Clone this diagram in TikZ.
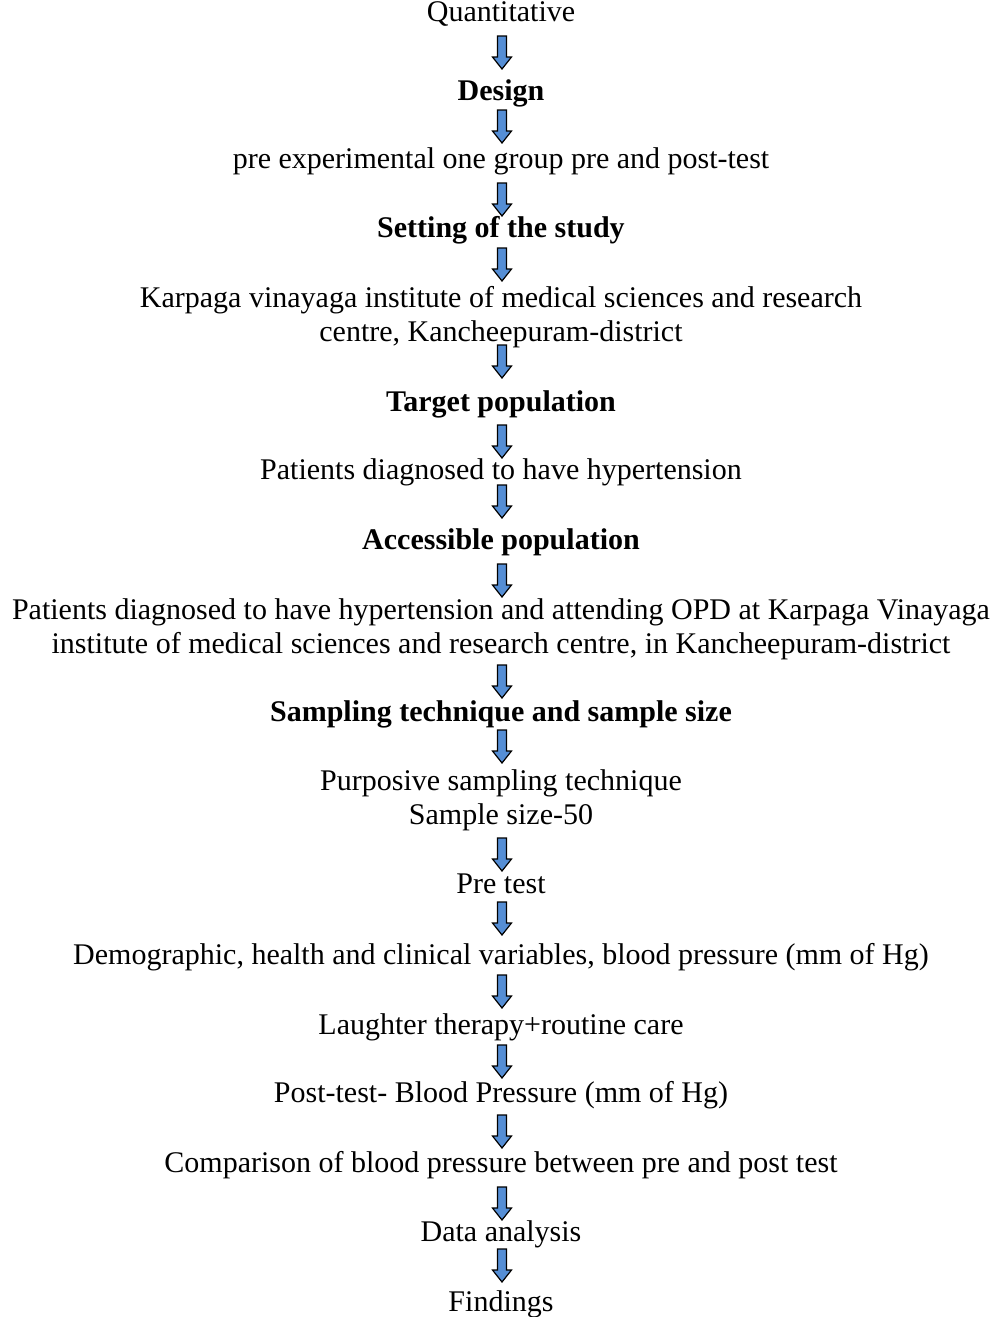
\documentclass[tikz,border=0pt]{standalone}
\usepackage{fontspec}
\setmainfont{Liberation Serif}
\definecolor{arrowblue}{HTML}{558ED5}
\tikzset{
  txt/.style={anchor=base, inner sep=0pt, font=\fontsize{30}{34}\selectfont, align=center},
  btxt/.style={txt, font=\fontsize{30}{34}\selectfont\bfseries},
  pics/barrow/.style={code={
    \draw[fill=arrowblue, line width=1.2pt, line join=miter]
      (-4.5,0) -- (4.5,0) -- (4.5,21) -- (9.5,21) -- (0,33) -- (-9.5,21) -- (-4.5,21) -- cycle;}}
}
\begin{document}
\begin{tikzpicture}[x=1pt,y=-1pt]
\useasboundingbox (0,0) rectangle (998,1317);
\node[txt]  (t1)  at (501,21)   {Quantitative};
\node[btxt] (t2)  at (501,100)  {Design};
\node[txt]  (t3)  at (501,168)  {pre experimental one group pre and post-test};
\node[btxt] (t4)  at (501,237)  {Setting of the study};
\node[txt]  (t5)  at (501,341)  {Karpaga vinayaga institute of medical sciences and research\\centre, Kancheepuram-district};
\node[btxt] (t6)  at (501,411)  {Target population};
\node[txt]  (t7)  at (501,479)  {Patients diagnosed to have hypertension};
\node[btxt] (t8)  at (501,549)  {Accessible population};
\node[txt]  (t9)  at (501,653)  {Patients diagnosed to have hypertension and attending OPD at Karpaga Vinayaga\\institute of medical sciences and research centre, in Kancheepuram-district};
\node[btxt] (t10) at (501,721)  {Sampling technique and sample size};
\node[txt]  (t11) at (501,824)  {Purposive sampling technique\\Sample size-50};
\node[txt]  (t12) at (501,893)  {Pre test};
\node[txt]  (t13) at (501,964)  {Demographic, health and clinical variables, blood pressure (mm of Hg)};
\node[txt]  (t14) at (501,1034) {Laughter therapy+routine care};
\node[txt]  (t15) at (501,1102) {Post-test- Blood Pressure (mm of Hg)};
\node[txt]  (t16) at (501,1172) {Comparison of blood pressure between pre and post test};
\node[txt]  (t17) at (501,1241) {Data analysis};
\node[txt]  (t18) at (501,1311) {Findings};
\foreach \y in {36,110,183,248,345,425,485,564,665,730,838,902,975,1045,1115,1187,1249}
  \pic at (502,\y) {barrow};
\end{tikzpicture}
\end{document}
